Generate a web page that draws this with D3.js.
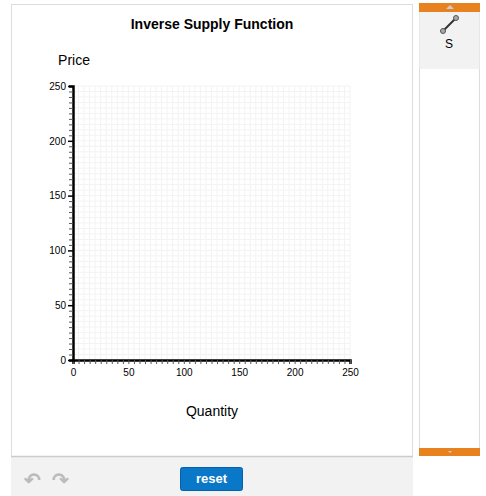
<!DOCTYPE html>
<html><head><meta charset="utf-8">
<script src="https://cdn.jsdelivr.net/npm/d3@7"></script>
<style>body{margin:0;background:#fff;font-family:Arial,"Liberation Sans",sans-serif}</style>
</head><body>
<svg id="c" width="486" height="496"></svg>
<script>
var title = "Inverse Supply Function";
var xLabel = "Quantity", yLabel = "Price";
var xDomain = [0, 250], yDomain = [0, 250];
var majorTicks = [0, 50, 100, 150, 200, 250];
var minorStep = 5;
var legendItems = ["S"];

var svg = d3.select("#c");
// panels
svg.append("rect").attr("x", 11.5).attr("y", 4.5).attr("width", 401).attr("height", 452).attr("fill", "#fff").attr("stroke", "#ddd");
svg.append("rect").attr("x", 11).attr("y", 456).attr("width", 402).attr("height", 40).attr("fill", "#f2f2f2");
svg.append("line").attr("x1", 11).attr("x2", 413).attr("y1", 456.5).attr("y2", 456.5).attr("stroke", "#ccc").attr("stroke-width", 1.5);
svg.append("rect").attr("x", 419.5).attr("y", 3.5).attr("width", 60).attr("height", 452).attr("fill", "#fff").attr("stroke", "#ddd");
svg.append("rect").attr("x", 419.5).attr("y", 12).attr("width", 60).attr("height", 57).attr("fill", "#f2f2f2");
svg.append("rect").attr("x", 419).attr("y", 3).attr("width", 61).attr("height", 9).attr("fill", "#e8821e");
svg.append("rect").attr("x", 419).attr("y", 448).attr("width", 61).attr("height", 8).attr("fill", "#e8821e");
svg.append("path").attr("d", "M446,9 L450,5 L454,9Z").attr("fill", "#ccc");
svg.append("path").attr("d", "M448,451 L450,453 L452,451Z").attr("fill", "#ccc");

// legend item
svg.append("line").attr("x1", 443).attr("y1", 31).attr("x2", 456).attr("y2", 18).attr("stroke", "#333").attr("stroke-width", 2);
[[443, 31], [456, 18]].forEach(function (p) {
  svg.append("circle").attr("cx", p[0]).attr("cy", p[1]).attr("r", 2.5).attr("fill", "#aaa").attr("stroke", "#555");
});
svg.append("text").attr("x", 449).attr("y", 48).attr("text-anchor", "middle").attr("font-size", 12).text(legendItems[0]);

// bottom controls
svg.append("text").attr("x", 32).attr("y", 487).attr("font-size", 20).attr("font-weight", "bold").attr("fill", "#bbb").attr("text-anchor", "middle").text("\u21B6");
svg.append("text").attr("x", 60).attr("y", 487).attr("font-size", 20).attr("font-weight", "bold").attr("fill", "#bbb").attr("text-anchor", "middle").text("\u21B7");
svg.append("rect").attr("x", 180.5).attr("y", 467.5).attr("width", 62).attr("height", 23).attr("rx", 2).attr("fill", "#0a78c8").attr("stroke", "#0860a8");
svg.append("text").attr("x", 211.5).attr("y", 483).attr("text-anchor", "middle").attr("font-size", 13).attr("font-weight", "bold").attr("fill", "#fff").text("reset");

// chart
var m = {l: 73, t: 86, r: 350, b: 360};
var x = d3.scaleLinear().domain(xDomain).range([m.l, m.r]);
var y = d3.scaleLinear().domain(yDomain).range([m.b, m.t]);
var minor = d3.range(xDomain[0], xDomain[1] + 0.1, minorStep);

var g = svg.append("g");
g.selectAll(".gx").data(minor).enter().append("line")
  .attr("x1", function (d) { return x(d); }).attr("x2", function (d) { return x(d); })
  .attr("y1", m.t).attr("y2", m.b).attr("stroke", "#f3f3f3").attr("stroke-width", 1);
g.selectAll(".gy").data(minor).enter().append("line")
  .attr("y1", function (d) { return y(d); }).attr("y2", function (d) { return y(d); })
  .attr("x1", m.l).attr("x2", m.r).attr("stroke", "#f3f3f3").attr("stroke-width", 1);

var fmt = function (d) { return majorTicks.indexOf(d) >= 0 ? d : ""; };
var xAx = svg.append("g").attr("transform", "translate(0," + m.b + ")")
  .call(d3.axisBottom(x).tickValues(minor).tickSize(4).tickFormat(fmt));
var yAx = svg.append("g").attr("transform", "translate(" + m.l + ",0)")
  .call(d3.axisLeft(y).tickValues(minor).tickSize(4).tickFormat(fmt));
[xAx, yAx].forEach(function (a) {
  a.select(".domain").attr("stroke-width", 2.5).attr("stroke", "#000");
  a.selectAll("text").attr("font-size", 10).attr("font-family", "Arial,Liberation Sans,sans-serif");
  a.selectAll(".tick line").attr("stroke", "#555");
});
xAx.selectAll("text").attr("dy", "0.9em");
yAx.selectAll(".tick").filter(function (d) { return majorTicks.indexOf(d) >= 0; }).select("line").attr("x2", -5).attr("stroke-width", 1.5).attr("stroke", "#000");

svg.append("text").attr("x", 212).attr("y", 29).attr("text-anchor", "middle").attr("font-size", 14).attr("font-weight", "bold").text(title);
svg.append("text").attr("x", 74).attr("y", 65).attr("text-anchor", "middle").attr("font-size", 14).text(yLabel);
svg.append("text").attr("x", 212).attr("y", 416).attr("text-anchor", "middle").attr("font-size", 14).text(xLabel);
</script>
</body></html>
